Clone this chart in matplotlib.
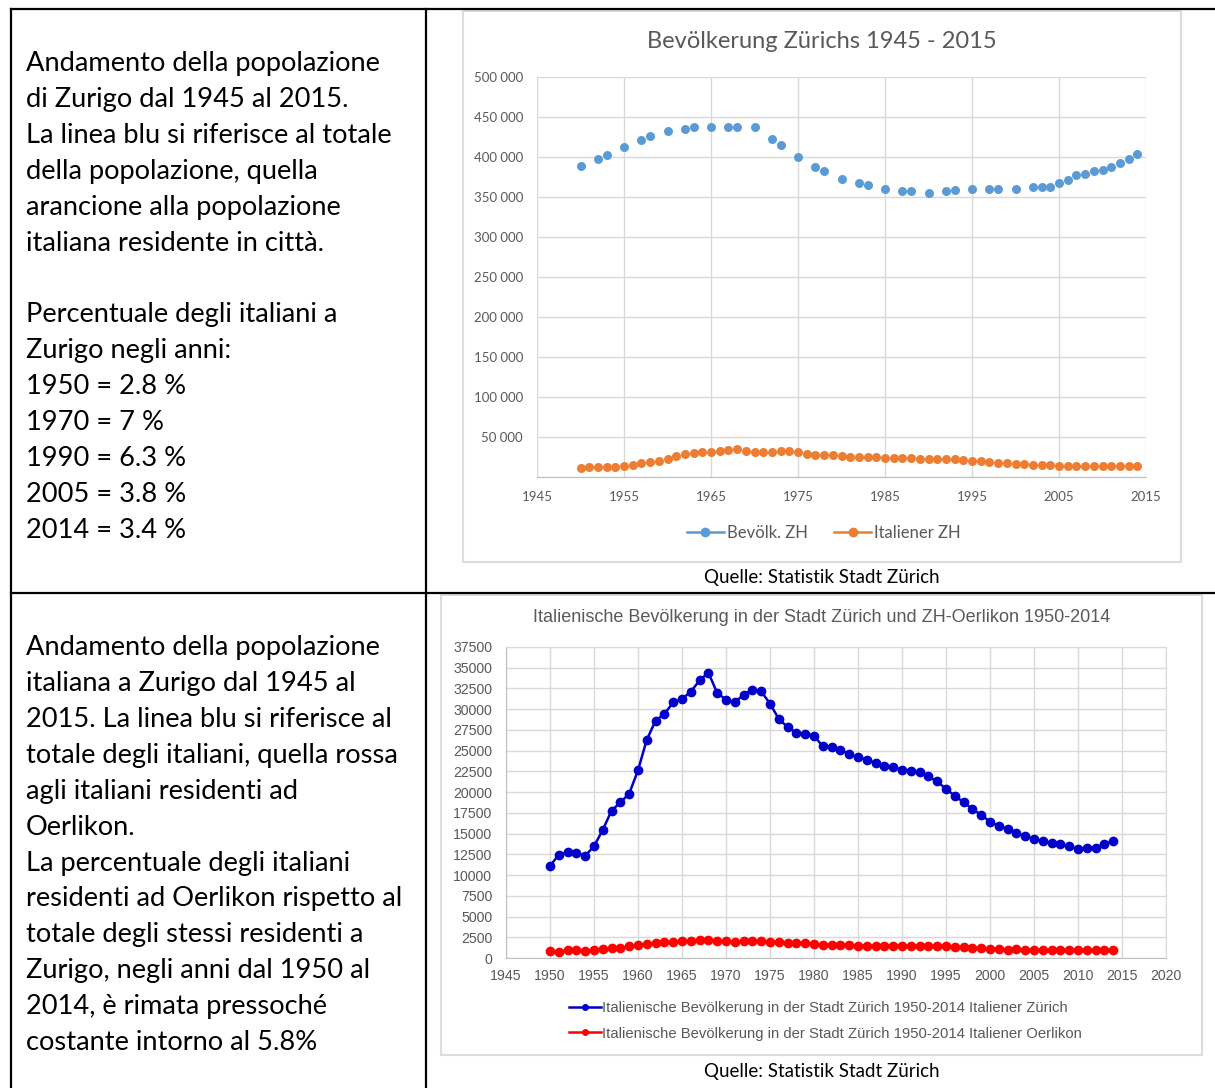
import numpy as np
import matplotlib
matplotlib.use("Agg")
import matplotlib.pyplot as plt
from matplotlib.lines import Line2D
from matplotlib.patches import Rectangle
from matplotlib.ticker import FuncFormatter, MultipleLocator

# Bevölkerung Zürichs (Gesamt), Jahre mit Werten
jahre_zh = [1950, 1952, 1953, 1955, 1957, 1958, 1960, 1962, 1963, 1965, 1967, 1968,
            1970, 1972, 1973, 1975, 1977, 1978, 1980, 1982, 1983, 1985, 1987, 1988,
            1990, 1992, 1993, 1995, 1997, 1998, 2000, 2002, 2003, 2004, 2005, 2006,
            2007, 2008, 2009, 2010, 2011, 2012, 2013, 2014]
bevoelk_zh = [389000, 398000, 402000, 413000, 421000, 426000, 433000, 435000, 437000,
              438000, 438000, 438000, 438000, 423000, 415000, 400000, 388000, 383000,
              373000, 368000, 365000, 360000, 358000, 357000, 355000, 357000, 359000,
              360000, 360000, 360000, 360000, 363000, 363000, 363000, 367000, 371000,
              377000, 379000, 382000, 384000, 388000, 393000, 398000, 404000]

# Italiener, jährlich 1950-2014
jahre_it = list(range(1950, 2015))
italiener_zh = [11100, 12450, 12780, 12660, 12340, 13460, 15470, 17770, 18770, 19820,
                22630, 26330, 28620, 29420, 30830, 31230, 32110, 33480, 34400, 31950,
                31150, 30830, 31750, 32350, 32150, 30670, 28820, 27850, 27130, 27050,
                26810, 25520, 25400, 25120, 24560, 24200, 23910, 23510, 23190, 22990,
                22710, 22550, 22430, 21900, 21300, 20380, 19570, 18770, 17970, 17240,
                16440, 15880, 15590, 15070, 14670, 14350, 14110, 13870, 13750, 13460,
                13140, 13260, 13260, 13750, 14110]
italiener_oerlikon = [800, 760, 920, 920, 800, 920, 1090, 1210, 1210, 1410,
                      1530, 1690, 1810, 1930, 1890, 2010, 2010, 2130, 2130, 2010,
                      2010, 1930, 2010, 2010, 2010, 1890, 1890, 1770, 1770, 1770,
                      1690, 1610, 1610, 1610, 1570, 1490, 1490, 1490, 1490, 1490,
                      1490, 1490, 1490, 1450, 1450, 1410, 1290, 1290, 1210, 1250,
                      1130, 1130, 1000, 1090, 1000, 950, 950, 950, 950, 950,
                      950, 950, 950, 950, 950]

testo_sopra = ["Andamento della popolazione",
               "di Zurigo dal 1945 al 2015.",
               "La linea blu si riferisce al totale",
               "della popolazione, quella",
               "arancione alla popolazione",
               "italiana residente in città.",
               "",
               "Percentuale degli italiani a",
               "Zurigo negli anni:",
               "1950 = 2.8 %",
               "1970 = 7 %",
               "1990 = 6.3 %",
               "2005 = 3.8 %",
               "2014 = 3.4 %"]
testo_sotto = ["Andamento della popolazione",
               "italiana a Zurigo dal 1945 al",
               "2015. La linea blu si riferisce al",
               "totale degli italiani, quella rossa",
               "agli italiani residenti ad",
               "Oerlikon.",
               "La percentuale degli italiani",
               "residenti ad Oerlikon rispetto al",
               "totale degli stessi residenti a",
               "Zurigo, negli anni dal 1950 al",
               "2014, è rimata pressoché",
               "costante intorno al 5.8%"]

W, H = 1215, 1088
fig = plt.figure(figsize=(W / 100, H / 100), dpi=100)


def fx(x):
    return x / W


def fy(y):
    return 1 - y / H


def rect(l, t, r, b):
    return [fx(l), fy(b), (r - l) / W, (b - t) / H]


grau = "#595959"
gitter = "#D9D9D9"

# Tabellenlinien
for (x0, y0, x1, y1) in [(11, 9, 1215, 9), (11, 9, 11, 1088), (426, 9, 426, 1088),
                         (11, 593, 1215, 593)]:
    fig.add_artist(Line2D([fx(x0), fx(x1)], [fy(y0), fy(y1)], color="black",
                          linewidth=1.6, transform=fig.transFigure))

# Rahmen der Diagramme
for (l, t, r, b) in [(463, 11, 1181, 562), (441, 595, 1202, 1055)]:
    fig.add_artist(Rectangle((fx(l), fy(b)), (r - l) / W, (b - t) / H, fill=False,
                             edgecolor="#DCDCDC", linewidth=1.5, transform=fig.transFigure))

# Testo a sinistra
for i, riga in enumerate(testo_sopra):
    fig.text(fx(26), fy(64 + i * 35.85), riga, fontsize=19.6, family="Lato",
             va="center", ha="left")
for i, riga in enumerate(testo_sotto):
    fig.text(fx(26), fy(648 + i * 35.85), riga, fontsize=19.6, family="Lato",
             va="center", ha="left")

# --- oberes Diagramm ---
ax1 = fig.add_axes(rect(537, 77, 1146, 477))
ax1.scatter(jahre_zh, bevoelk_zh, s=42, color="#5B9BD5", zorder=3, linewidths=0)
ax1.scatter(jahre_it, italiener_zh, s=42, color="#ED7D31", zorder=3, linewidths=0)
ax1.set_xlim(1945, 2015)
ax1.set_ylim(0, 500000)
ax1.set_xticks(np.arange(1945, 2016, 10))
ax1.yaxis.set_major_locator(MultipleLocator(50000))
ax1.yaxis.set_major_formatter(FuncFormatter(
    lambda v, p: "" if v == 0 else f"{int(v):,}".replace(",", " ")))
ax1.grid(True, color=gitter, linewidth=1)
ax1.set_axisbelow(True)
for s in ["top", "right", "left"]:
    ax1.spines[s].set_visible(False)
ax1.spines["bottom"].set_color("#BFBFBF")
ax1.tick_params(length=0, labelsize=9.5, labelcolor=grau, pad=10)
for lab in ax1.get_xticklabels() + ax1.get_yticklabels():
    lab.set_family("Lato")
fig.text(fx(822), fy(41), "Bevölkerung Zürichs 1945 - 2015", fontsize=17,
         family="Lato", color=grau, ha="center", va="center")
h1 = [Line2D([], [], color="#5B9BD5", marker="o", markersize=6, linewidth=1.8),
      Line2D([], [], color="#ED7D31", marker="o", markersize=6, linewidth=1.8)]
fig.legend(h1, ["Bevölk. ZH", "Italiener ZH"], loc="center", bbox_to_anchor=(fx(824), fy(533)),
           ncol=2, frameon=False, prop={"family": "Lato", "size": 12}, labelcolor=grau,
           handlelength=2.2, handletextpad=0.2, columnspacing=1.6)
fig.text(fx(822), fy(578), "Quelle: Statistik Stadt Zürich", fontsize=13.5,
         family="Lato", ha="center", va="center")

# --- unteres Diagramm ---
ax2 = fig.add_axes(rect(506, 647, 1166, 958))
ax2.plot(jahre_it, italiener_zh, color="#0000C8", linewidth=1.8, marker="o",
         markersize=6, zorder=3)
ax2.plot(jahre_it, italiener_oerlikon, color="#FF0000", linewidth=1.8, marker="o",
         markersize=6, zorder=3)
ax2.set_xlim(1945, 2020)
ax2.set_ylim(0, 37500)
ax2.xaxis.set_major_locator(MultipleLocator(5))
ax2.yaxis.set_major_locator(MultipleLocator(2500))
ax2.grid(True, color=gitter, linewidth=1)
ax2.set_axisbelow(True)
for s in ["top", "right"]:
    ax2.spines[s].set_color(gitter)
for s in ["bottom", "left"]:
    ax2.spines[s].set_color("#BFBFBF")
ax2.tick_params(length=0, labelsize=10.2, labelcolor=grau)
ax2.tick_params(axis="x", pad=8)
ax2.tick_params(axis="y", pad=10)
for lab in ax2.get_xticklabels() + ax2.get_yticklabels():
    lab.set_family("Liberation Sans")
fig.text(fx(822), fy(617),
         "Italienische Bevölkerung in der Stadt Zürich und ZH-Oerlikon 1950-2014",
         fontsize=13, family="Liberation Sans", color=grau, ha="center", va="center")
h2 = [Line2D([], [], color="#0000C8", marker="o", markersize=4, linewidth=1.8),
      Line2D([], [], color="#FF0000", marker="o", markersize=4, linewidth=1.8)]
fig.legend(h2, ["Italienische Bevölkerung in der Stadt Zürich 1950-2014 Italiener Zürich",
                "Italienische Bevölkerung in der Stadt Zürich 1950-2014 Italiener Oerlikon"],
           loc="upper left", bbox_to_anchor=(fx(562), fy(994)), frameon=False,
           prop={"family": "Liberation Sans", "size": 10.7}, labelcolor=grau,
           handlelength=2.1, handletextpad=0.1, labelspacing=0.75, borderpad=0)
fig.text(fx(822), fy(1071), "Quelle: Statistik Stadt Zürich", fontsize=13.5,
         family="Lato", ha="center", va="center")

fig.savefig("out.png", dpi=100)
